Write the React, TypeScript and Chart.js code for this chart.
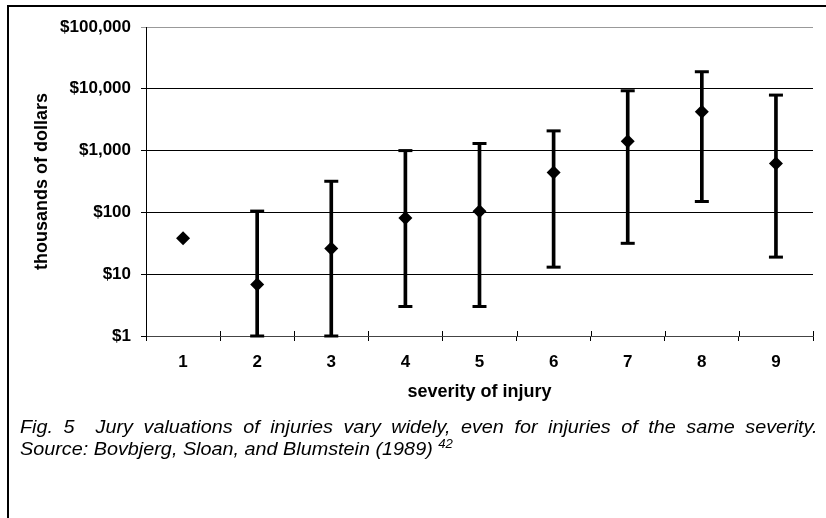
import React, { useEffect, useRef } from 'react';
import { Chart, registerables } from 'chart.js';

Chart.register(...registerables);

const severity = ['1', '2', '3', '4', '5', '6', '7', '8', '9'];
const median = [38, 6.8, 26, 81, 104, 442, 1420, 4240, 618];
const high = [null, 105, 319, 1000, 1304, 2085, 9290, 18880, 7910];
const low = [null, 1, 1, 3, 3, 13, 31.6, 150, 18.9];
const yTicks = [1, 10, 100, 1000, 10000, 100000];

const FONT = '"Liberation Sans", Arial, Helvetica, sans-serif';

const innerTicks = {
  id: 'innerTicks',
  afterDraw(chart: any) {
    const xs = chart.scales.x;
    const ctx = chart.ctx;
    ctx.save();
    ctx.strokeStyle = '#000';
    ctx.lineWidth = 1;
    ctx.beginPath();
    for (let i = 0; i <= severity.length; i++) {
      const px = Math.round(xs.getPixelForValue(i - 0.5)) + 0.5;
      ctx.moveTo(px, xs.top);
      ctx.lineTo(px, xs.top - 5);
    }
    ctx.stroke();
    ctx.restore();
  },
};

export default function App() {
  const ref = useRef<HTMLCanvasElement>(null);

  useEffect(() => {
    document.body.style.margin = '0';
    const chart = new Chart(ref.current as HTMLCanvasElement, {
      data: {
        labels: severity,
        datasets: [
          {
            type: 'bar',
            data: severity.map((_, i) => (high[i] == null ? null : [low[i], high[i]])) as any,
            backgroundColor: '#000',
            borderWidth: 0,
            barThickness: 3,
            order: 3,
            clip: false,
          } as any,
          {
            type: 'line',
            data: high as any,
            showLine: false,
            pointStyle: 'line',
            pointRadius: 7,
            pointBorderWidth: 3,
            pointBorderColor: '#000',
            borderColor: '#000',
            order: 2,
            clip: false,
          } as any,
          {
            type: 'line',
            data: low as any,
            showLine: false,
            pointStyle: 'line',
            pointRadius: 7,
            pointBorderWidth: 3,
            pointBorderColor: '#000',
            borderColor: '#000',
            order: 2,
            clip: false,
          } as any,
          {
            type: 'line',
            data: median,
            showLine: false,
            pointStyle: 'rectRot',
            pointRadius: 7,
            pointBorderWidth: 0,
            pointBackgroundColor: '#000',
            pointBorderColor: '#000',
            order: 1,
            clip: false,
          } as any,
        ],
      },
      options: {
        animation: false,
        responsive: false,
        events: [],
        layout: { padding: { top: 27, right: 13, left: 0, bottom: 0 } },
        plugins: { legend: { display: false }, tooltip: { enabled: false } },
        scales: {
          x: {
            type: 'category',
            offset: true,
            grid: {
              offset: true,
              drawOnChartArea: false,
              drawTicks: true,
              tickLength: 5,
              color: '#000',
            },
            border: { color: '#444' },
            ticks: {
              color: '#000',
              padding: 11,
              font: { family: FONT, size: 17, weight: 'bold' },
            },
            title: {
              display: true,
              text: 'severity of injury',
              color: '#000',
              font: { family: FONT, size: 18, weight: 'bold' },
              padding: { top: 0, bottom: 115 },
            },
            afterFit: (s: any) => {
              s.height = 182;
            },
          },
          y: {
            type: 'logarithmic',
            min: 1,
            max: 100000,
            afterBuildTicks: (s: any) => {
              s.ticks = yTicks.map((v) => ({ value: v }));
            },
            grid: {
              color: (c: any) => (c.tick && c.tick.value === 100000 ? '#999' : '#000'),
              tickLength: 5,
            },
            border: { color: '#000' },
            ticks: {
              color: '#000',
              padding: 10,
              font: { family: FONT, size: 17, weight: 'bold' },
              callback: (v: any) => '$' + Number(v).toLocaleString('en-US'),
            },
            title: {
              display: true,
              text: 'thousands of dollars',
              color: '#000',
              font: { family: FONT, size: 18, weight: 'bold' },
              padding: { top: 31, bottom: 0 },
            },
            afterFit: (s: any) => {
              s.width = 146;
            },
          },
        },
      } as any,
      plugins: [innerTicks],
    });
    return () => chart.destroy();
  }, []);

  return (
    <div style={{ position: 'relative', width: 826, height: 518, overflow: 'hidden', background: '#fff' }}>
      <div
        style={{
          position: 'absolute',
          left: 7,
          top: 5,
          width: 1000,
          height: 1000,
          border: '2px solid #000',
        }}
      />
      <canvas ref={ref} width={826} height={518} style={{ position: 'absolute', left: 0, top: 0 }} />
      <div
        style={{
          position: 'absolute',
          left: 20,
          top: 416,
          width: 725,
          transform: 'scaleX(1.1)',
          transformOrigin: 'left top',
          fontFamily: FONT,
          fontStyle: 'italic',
          fontSize: 18,
          lineHeight: '22px',
          color: '#000',
        }}
      >
        <div style={{ textAlign: 'justify', textAlignLast: 'justify', whiteSpace: 'nowrap' as any }}>
          {'Fig. 5\u00a0 Jury valuations of injuries vary widely, even for injuries of the same severity.'}
        </div>
        <div style={{ whiteSpace: 'pre' }}>
          {'Source: Bovbjerg, Sloan, and Blumstein (1989) '}
          <span style={{ fontSize: 12, position: 'relative', top: -7 }}>42</span>
        </div>
      </div>
    </div>
  );
}
